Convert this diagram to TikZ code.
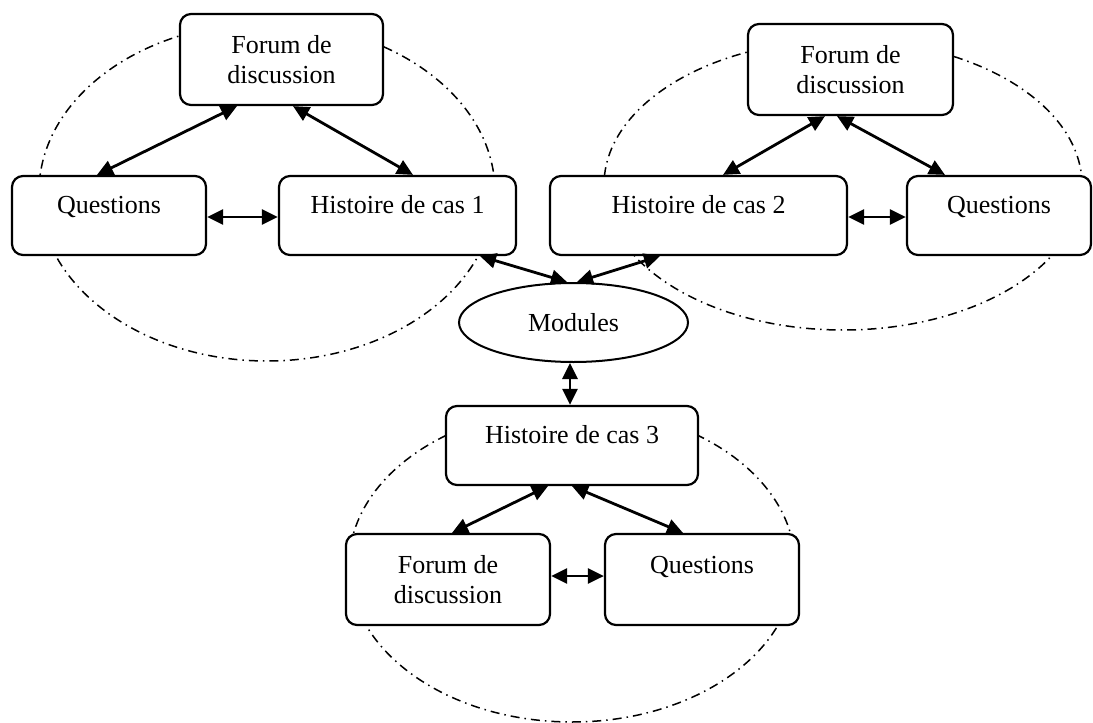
\documentclass[tikz,border=0pt]{standalone}
\usepackage{fontspec}
\setmainfont{Liberation Serif}
\usetikzlibrary{arrows.meta,shapes.geometric}
\begin{document}
\begin{tikzpicture}[x=1pt,y=-1pt,
  every node/.style={font=\fontsize{26}{30}\selectfont, inner xsep=0pt, inner ysep=0pt},
  boxone/.style={draw, line width=2.2pt, rounded corners=11pt, fill=white, align=center,
     text height=37pt, text depth=42pt},
  boxtwo/.style={draw, line width=2.2pt, rounded corners=11pt, fill=white, align=center,
     text height=69pt, text depth=22pt},
  boxtall/.style={draw, line width=2.2pt, rounded corners=11pt, fill=white, align=center,
     text height=39pt, text depth=52pt},
  oval/.style={draw, line width=2pt, ellipse, fill=white, inner sep=0pt},
  link/.style={line width=2.8pt, {Triangle[length=16pt,width=15pt]}-{Triangle[length=16pt,width=15pt]}},
  group/.style={line width=1.5pt, dash pattern=on 9pt off 5pt on 1.5pt off 5pt}
]
\useasboundingbox (0,0) rectangle (1093,723);
% groups
\draw[group] (267,192) ellipse [x radius=228pt, y radius=169pt];
\draw[group] (843,185) ellipse [x radius=239pt, y radius=145pt];
\draw[group] (572,565) ellipse [x radius=223pt, y radius=157pt];
% nodes
\node[boxtwo, minimum width=203pt] (F1) at (281.5,59.5) {Forum de\\discussion};
\node[boxone, minimum width=194pt] (Q1) at (109,215.5) {Questions};
\node[boxone, minimum width=237pt] (H1) at (397.5,215.5) {Histoire de cas 1};
\node[boxtwo, minimum width=205pt] (F2) at (850.5,69.5) {Forum de\\discussion};
\node[boxone, minimum width=297pt] (H2) at (698.5,215.5) {Histoire de cas 2};
\node[boxone, minimum width=184pt] (Q2) at (999,215.5) {Questions};
\node[oval, minimum width=229pt, minimum height=79pt] (M) at (573.5,322.5) {Modules};
\node[boxone, minimum width=252pt] (H3) at (572,445.5) {Histoire de cas 3};
\node[boxtwo, minimum width=204pt] (F3) at (448,579.5) {Forum de\\discussion};
\node[boxtall, minimum width=194pt] (Q3) at (702,579.5) {Questions};
% connectors
\draw[link] ([xshift=-44.5pt]F1.south) -- ([xshift=-12pt]Q1.north);
\draw[link] ([xshift=11.5pt]F1.south) -- ([xshift=15.5pt]H1.north);
\draw[link] ([yshift=-1.5pt]Q1.east) -- ([yshift=-1.5pt]H1.west);
\draw[link] ([xshift=-25.5pt]F2.south) -- ([xshift=24.5pt]H2.north);
\draw[link] ([xshift=-13.5pt]F2.south) -- ([xshift=-54pt]Q2.north);
\draw[link] ([yshift=-1.5pt]H2.east) -- ([yshift=-1.5pt]Q2.west);
\draw[link] ([xshift=82.5pt]H1.south) -- ([xshift=-6.5pt]M.north);
\draw[link] ([xshift=-38.5pt]H2.south) -- ([xshift=3.5pt]M.north);
\draw[link] ([xshift=-3.5pt]M.south) -- ([xshift=-2pt]H3.north);
\draw[link] ([xshift=-24pt]H3.south) -- ([xshift=4pt]F3.north);
\draw[link] (H3.south) -- ([xshift=-19pt]Q3.north);
\draw[link] ([yshift=3.5pt]F3.east) -- ([yshift=3.5pt]Q3.west);
\end{tikzpicture}
\end{document}
